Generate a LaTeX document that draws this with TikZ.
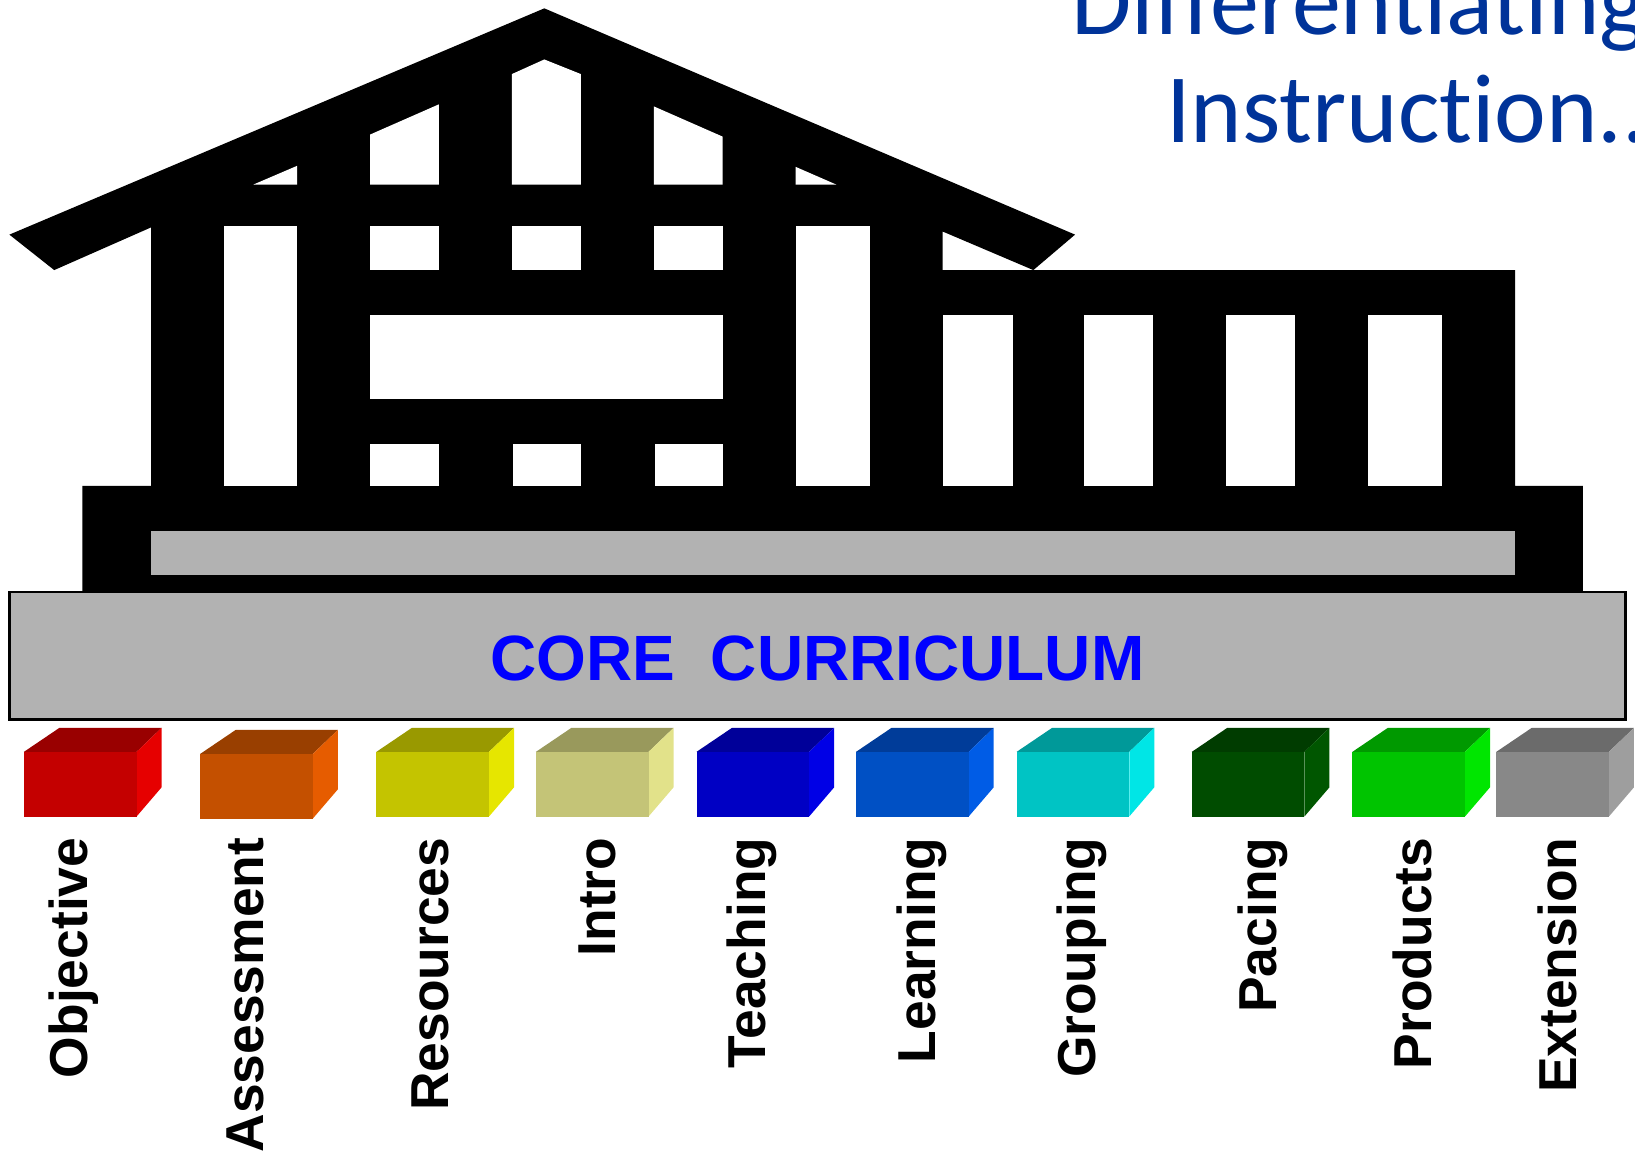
\documentclass[tikz,border=0pt]{standalone}
\usepackage{fontspec}
\setmainfont{Liberation Sans}
\newfontfamily\titlefont[Ligatures=NoCommon]{Carlito}
\definecolor{redfront}{HTML}{C40000}
\definecolor{redtop}{HTML}{990000}
\definecolor{redside}{HTML}{E60000}
\definecolor{orangefront}{HTML}{C45000}
\definecolor{orangetop}{HTML}{993F00}
\definecolor{orangeside}{HTML}{E65C00}
\definecolor{yellowfront}{HTML}{C4C400}
\definecolor{yellowtop}{HTML}{999900}
\definecolor{yellowside}{HTML}{E6E600}
\definecolor{khakifront}{HTML}{C4C477}
\definecolor{khakitop}{HTML}{99995C}
\definecolor{khakiside}{HTML}{E2E28A}
\definecolor{bluefront}{HTML}{0000C4}
\definecolor{bluetop}{HTML}{000099}
\definecolor{blueside}{HTML}{0000E6}
\definecolor{azurefront}{HTML}{0050C4}
\definecolor{azuretop}{HTML}{003C99}
\definecolor{azureside}{HTML}{005CE6}
\definecolor{cyanfront}{HTML}{00C4C4}
\definecolor{cyantop}{HTML}{009999}
\definecolor{cyanside}{HTML}{00E6E6}
\definecolor{darkfront}{HTML}{004C00}
\definecolor{darktop}{HTML}{003C00}
\definecolor{darkside}{HTML}{005600}
\definecolor{greenfront}{HTML}{00C400}
\definecolor{greentop}{HTML}{009900}
\definecolor{greenside}{HTML}{00E600}
\definecolor{grayfront}{HTML}{888888}
\definecolor{graytop}{HTML}{6B6B6B}
\definecolor{grayside}{HTML}{9E9E9E}
\definecolor{floorgray}{HTML}{B2B2B2}
\definecolor{titleblue}{HTML}{003399}
\tikzset{
  window/.style={fill=white},
  boxlabel/.style={rotate=90, anchor=base east, inner sep=0pt, font=\fontsize{26.7}{26.7}\selectfont\bfseries},
  titleline/.style={anchor=base west, inner sep=0pt, text=titleblue, font=\titlefont\fontsize{49}{49}\selectfont}
}
\begin{document}
\begin{tikzpicture}[x=0.5214pt, y=-0.5214pt]
\useasboundingbox (0, 0) rectangle (1568, 1103.9);
% title
\node [titleline] (title1) at (1027, 33) {Differentiating};
\node [titleline] (title2) at (1118, 137) {Instruction...};
% house
\fill (9, 225) -- (522, 8) -- (1031, 225) -- (991, 259) -- (904, 222) -- (904, 259) -- (1453, 259) -- (1453, 466) -- (1518, 466) -- (1518, 568) -- (79, 568) -- (79, 466) -- (145, 466) -- (145, 218) -- (52, 259) -- cycle;
\fill [window] (243, 177) -- (285, 159) -- (285, 177) -- cycle;
\fill [window] (355, 177) -- (355, 129) -- (421, 100) -- (421, 177) -- cycle;
\fill [window] (491, 177) -- (491, 71) -- (522, 57) -- (557, 71) -- (557, 177) -- cycle;
\fill [window] (627, 177) -- (627, 102) -- (693, 131) -- (693, 177) -- cycle;
\fill [window] (763, 177) -- (763, 160) -- (802, 177) -- cycle;
\foreach \x/\w in {355/66, 491/66, 627/66} \fill [window] (\x, 217) rectangle ++(\w, 42);
\foreach \x/\w in {355/66, 492/65, 628/65} \fill [window] (\x, 426) rectangle ++(\w, 40);
\foreach \x/\w in {215/70, 763/71} \fill [window] (\x, 217) rectangle ++(\w, 249);
\foreach \x/\w in {904/67, 1040/66, 1176/66, 1312/71} \fill [window] (\x, 302) rectangle ++(\w, 164);
\fill [window] (355, 302) rectangle (693, 383);
\fill [floorgray] (145, 509) rectangle (1453, 551);
% core curriculum
\draw [fill=floorgray, line width=1.2pt] (9, 568) rectangle (1559, 690);
\node [inner sep=0pt, text=blue, font=\fontsize{32}{32}\selectfont\bfseries] (core) at (784, 631) {CORE\ \ CURRICULUM};
% boxes and their labels
\foreach \x/\y/\c/\lx/\txt in {23/0/red/83.5/Objective, 192/2/orange/252.5/Assessment, 361/0/yellow/430.5/Resources, 514/0/khaki/590/Intro, 668/0/blue/734.5/Teaching, 821/0/azure/897/Learning, 975/0/cyan/1050.5/Grouping, 1143/0/dark/1224/Pacing, 1297/0/green/1373/Products, 1435/0/gray/1512/Extension} {
  \fill [\c top] (\x, 721+\y) -- ++(34, -23) -- ++(98, 0) -- ++(-24, 23) -- cycle;
  \fill [\c side] (\x+108, 721+\y) -- ++(24, -23) -- ++(0, 57) -- ++(-24, 28) -- cycle;
  \fill [\c front] (\x, 721+\y) rectangle ++(108, 62.5);
  \node [boxlabel] (\c label) at (\lx, 803) {\txt};
}
\end{tikzpicture}
\end{document}
